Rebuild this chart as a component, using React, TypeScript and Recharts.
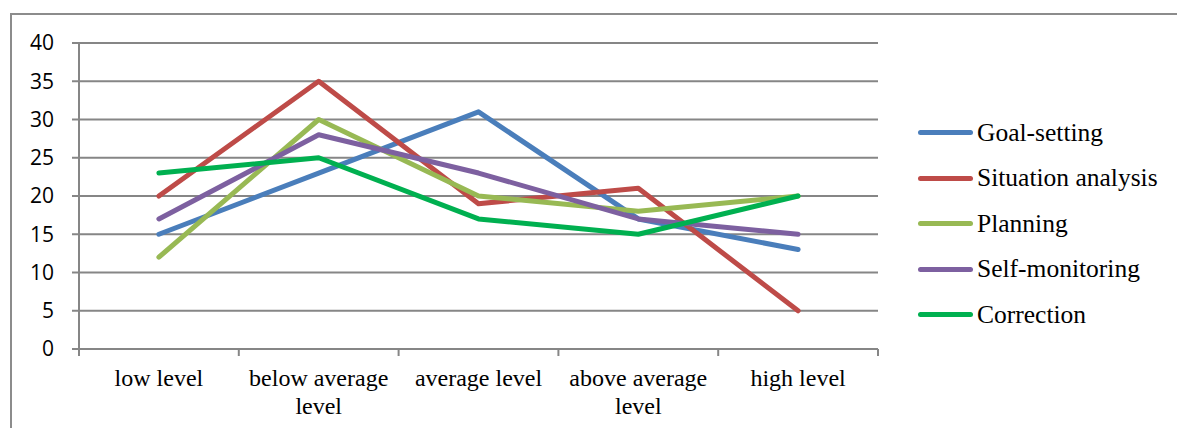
import { LineChart, Line, CartesianGrid, XAxis, YAxis } from 'recharts';

const categories = ['low level', 'below average level', 'average level', 'above average level', 'high level'];
const goalSetting = [15, 23, 31, 17, 13];
const situationAnalysis = [20, 35, 19, 21, 5];
const planning = [12, 30, 20, 18, 20];
const selfMonitoring = [17, 28, 23, 17, 15];
const correction = [23, 25, 17, 15, 20];
const yTicks = [0, 5, 10, 15, 20, 25, 30, 35, 40];

const series = [
  { key: 'goal', name: 'Goal-setting', values: goalSetting, color: '#4A7EBB' },
  { key: 'situation', name: 'Situation analysis', values: situationAnalysis, color: '#BE4B48' },
  { key: 'planning', name: 'Planning', values: planning, color: '#98B954' },
  { key: 'self', name: 'Self-monitoring', values: selfMonitoring, color: '#7D60A0' },
  { key: 'correction', name: 'Correction', values: correction, color: '#00B050' },
];

const data = categories.map((c, i) => {
  const row: Record<string, string | number> = { level: c };
  series.forEach((s) => {
    row[s.key] = s.values[i];
  });
  return row;
});

const AXIS = '#868686';
const SERIF = '"Liberation Serif", "Times New Roman", serif';

// long labels go on two lines, the last word drops down
function splitLabel(label: string): string[] {
  if (label.length <= 14) return [label];
  const words = label.split(' ');
  return [words.slice(0, -1).join(' '), words[words.length - 1]];
}

function CategoryTick(props: any) {
  const { x, y, payload, index } = props;
  const half = payload && payload.offset ? payload.offset : 80;
  const last = index === categories.length - 1;
  const lines = splitLabel(String(payload.value));
  return (
    <g>
      <line x1={x - half} y1={y - 8} x2={x - half} y2={y - 1} stroke={AXIS} strokeWidth={2} />
      {last && <line x1={x + half} y1={y - 8} x2={x + half} y2={y - 1} stroke={AXIS} strokeWidth={2} />}
      <text x={x} y={y + 29} textAnchor="middle" fontFamily={SERIF} fontSize={24} fill="#000">
        {lines.map((l, i) => (
          <tspan key={i} x={x} dy={i === 0 ? 0 : 28}>
            {l}
          </tspan>
        ))}
      </text>
    </g>
  );
}

function ChartLegend() {
  return (
    <div style={{ position: 'absolute', left: 918, top: 110, fontFamily: SERIF, fontSize: 25.5, color: '#000' }}>
      {series.map((s) => (
        <div key={s.key} style={{ display: 'flex', alignItems: 'center', height: 45.5 }}>
          <div style={{ width: 55, height: 5, borderRadius: 3, background: s.color, marginRight: 4 }} />
          <span>{s.name}</span>
        </div>
      ))}
    </div>
  );
}

export default function App() {
  return (
    <div style={{ position: 'absolute', left: 0, top: 0, width: 1177, height: 428, overflow: 'hidden', background: '#fff' }}>
      <div
        style={{
          position: 'absolute',
          left: 10,
          top: 13,
          width: 1300,
          height: 600,
          border: '2px solid #8c8c8c',
          boxSizing: 'border-box',
        }}
      />
      <div style={{ position: 'absolute', left: 0, top: 0 }}>
        <LineChart width={1177} height={428} data={data} margin={{ top: 43, right: 299, left: 19, bottom: 19 }}>
          <CartesianGrid vertical={false} stroke={AXIS} strokeWidth={2} />
          <XAxis
            dataKey="level"
            scale="band"
            interval={0}
            height={60}
            axisLine={{ stroke: AXIS, strokeWidth: 2 }}
            tickLine={false}
            tick={<CategoryTick />}
          />
          <YAxis
            domain={[0, 40]}
            ticks={yTicks}
            interval={0}
            width={60}
            axisLine={{ stroke: AXIS, strokeWidth: 2 }}
            tickLine={{ stroke: AXIS, strokeWidth: 2 }}
            tickSize={7}
            tickMargin={18}
            tick={{ fill: '#000', fontSize: 21, fontFamily: '"Open Sans", sans-serif' }}
          />
          {series.map((s) => (
            <Line
              key={s.key}
              dataKey={s.key}
              name={s.name}
              stroke={s.color}
              strokeWidth={5}
              strokeLinecap="round"
              strokeLinejoin="round"
              dot={false}
              activeDot={false}
              isAnimationActive={false}
            />
          ))}
        </LineChart>
      </div>
      <ChartLegend />
    </div>
  );
}
